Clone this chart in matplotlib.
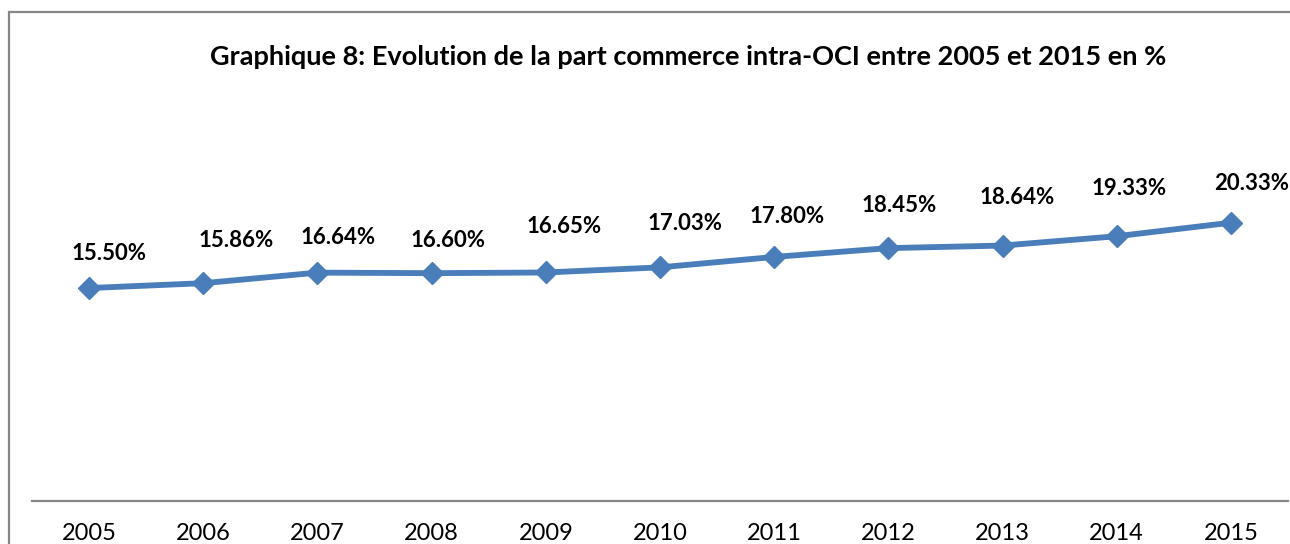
import matplotlib.pyplot as plt
from matplotlib.patches import Rectangle

years = ['2005', '2006', '2007', '2008', '2009', '2010', '2011', '2012', '2013', '2014', '2015']
share = [15.50, 15.86, 16.64, 16.60, 16.65, 17.03, 17.80, 18.45, 18.64, 19.33, 20.33]

# hand placed label offsets (pixels, right / up) as in the source chart
lab_dx = [20, 33, 21, 16, 18, 25, 13, 11, 15, 12, 21]
lab_dy = [35, 43, 35, 33, 46, 44, 40, 43, 48, 48, 39]

W, H = 1290, 544
blue = '#4A7EBB'
grey = '#868686'

plt.rcParams['font.family'] = ['Lato', 'DejaVu Sans']

fig = plt.figure(figsize=(W / 100, H / 100), dpi=100)

# outer chart frame (runs off the right and bottom edges)
fig.patches.append(Rectangle((9 / W, -0.1), 1.2, 1.1 - 12 / H, transform=fig.transFigure,
                             fill=False, edgecolor=grey, linewidth=1.6))

ax = fig.add_axes([32 / W, (H - 500.5) / H, (1288 - 32) / W, 387 / H])
x = list(range(len(years)))
ax.plot(x, share, color=blue, linewidth=4.2, marker='D', markersize=11,
        markeredgecolor=blue, markerfacecolor=blue, solid_capstyle='round')

for i, v in enumerate(share):
    ax.annotate(f'{v:.2f}%', (x[i], v), xytext=(lab_dx[i] * 0.72, lab_dy[i] * 0.72),
                textcoords='offset points', ha='center', va='center',
                fontsize=16, fontweight='bold', color='black', annotation_clip=False)

ax.set_xlim(-0.5, len(years) - 0.5)
ax.set_ylim(-0.2, 28.4)
ax.set_xticks(x)
ax.set_xticklabels(years, fontsize=17)
ax.set_yticks([])
ax.tick_params(axis='x', length=0, pad=16)
for s in ['top', 'right', 'left']:
    ax.spines[s].set_visible(False)
ax.spines['bottom'].set_color(grey)
ax.spines['bottom'].set_linewidth(1.6)

fig.text(688 / W, 1 - 57 / H, 'Graphique 8: Evolution de la part commerce intra-OCI entre 2005 et 2015 en %',
         ha='center', va='center', fontsize=19.5, fontweight='bold')

fig.savefig('out.png', dpi=100)
